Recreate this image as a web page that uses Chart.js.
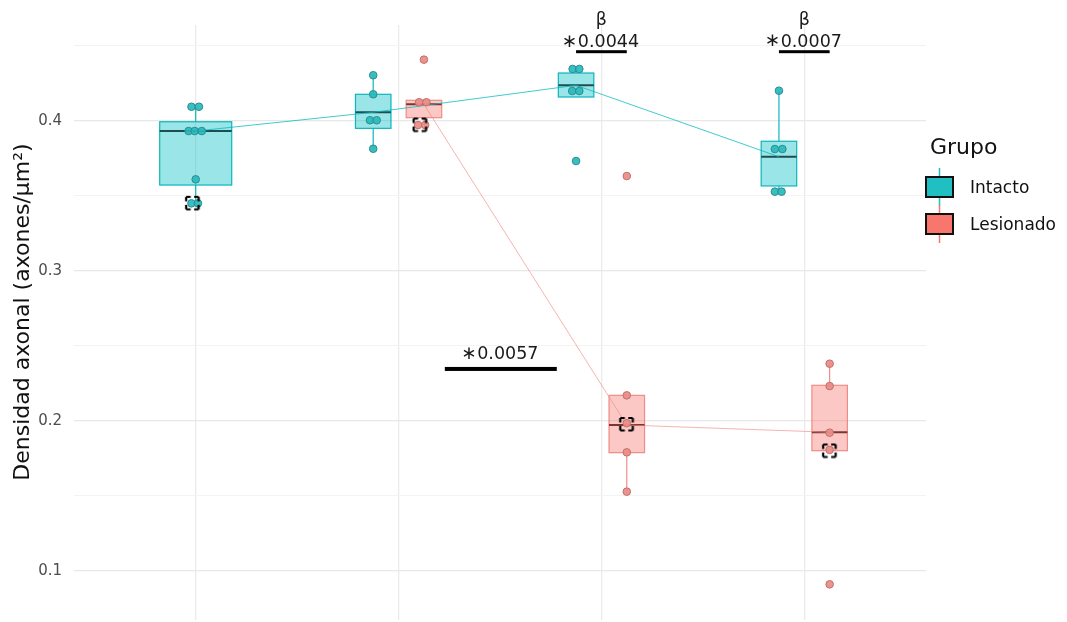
<!DOCTYPE html>
<html lang="es">
<head>
<meta charset="utf-8">
<title>Densidad axonal por grupo</title>
<script src="https://cdn.jsdelivr.net/npm/chart.js@4.4.0/dist/chart.umd.min.js"></script>
<style>
  html, body { margin: 0; padding: 0; background: #ffffff; }
  #lienzo { width: 1067px; height: 622px; }
</style>
</head>
<body>
<div id="lienzo"><canvas id="grafico" width="1067" height="622"></canvas></div>
<script>
// ---------- Datos ----------
const categorias = [1, 2, 3, 4];
const grupos = ['Intacto', 'Lesionado'];

// Resumen de cada caja: [bigote inferior, Q1, mediana, Q3, bigote superior]
const cajaIntacto = [
  [0.3451, 0.3573, 0.3933, 0.3995, 0.4095],
  [0.3815, 0.3951, 0.4058, 0.4178, 0.4305],
  [0.4160, 0.4160, 0.4238, 0.4320, 0.4347],
  [0.3529, 0.3567, 0.3762, 0.3865, 0.4202]
];
const cajaLesionado = [
  null,
  [0.3973, 0.4022, 0.4111, 0.4138, 0.4138],
  [0.1529, 0.1789, 0.1973, 0.2171, 0.2171],
  [0.1802, 0.1802, 0.1925, 0.2238, 0.2382]
];

// Observaciones individuales
const puntosIntacto = [
  [0.4095, 0.4095, 0.3933, 0.3933, 0.3933, 0.3611, 0.3451, 0.3451],
  [0.4305, 0.4178, 0.4005, 0.4005, 0.3815],
  [0.4347, 0.4347, 0.4200, 0.4200, 0.3733],
  [0.4202, 0.3813, 0.3813, 0.3529, 0.3529]
];
const puntosLesionado = [
  [],
  [0.4409, 0.4125, 0.4125, 0.3973, 0.3973],
  [0.3633, 0.2171, 0.1985, 0.1791, 0.1529],
  [0.2382, 0.2233, 0.1922, 0.1807, 0.0911]
];
// Desplazamiento horizontal (jitter) de cada observación, en unidades de categoría
const jitterIntacto = [
  [-0.021, 0.016, -0.035, -0.005, 0.030, 0.000, -0.021, 0.011],
  [0.000, 0.000, -0.016, 0.017, 0.000],
  [-0.017, 0.016, -0.019, 0.016, 0.000],
  [0.000, -0.020, 0.017, -0.020, 0.013]
];
const jitterLesionado = [
  [],
  [0.000, -0.024, 0.012, -0.029, 0.006],
  [0.000, 0.000, 0.000, 0.000, 0.000],
  [0.000, 0.000, 0.000, 0.000, 0.000]
];

// Observación destacada en cada categoría
const destacados = [
  { grupo: 0, categoria: 0, valor: 0.3451, jitter: -0.015 },
  { grupo: 1, categoria: 1, valor: 0.3973, jitter: -0.019 },
  { grupo: 1, categoria: 2, valor: 0.1977, jitter: 0.000 },
  { grupo: 1, categoria: 3, valor: 0.1800, jitter: 0.000 }
];

// Comparaciones significativas
const comparaciones = [
  { texto: '\u22170.0057', marca: '',  desde: 2.228, hasta: 2.780, y: 0.2347, yTexto: 0.2410 },
  { texto: '\u22170.0044', marca: 'β', desde: 2.875, hasta: 3.125, y: 0.4462, yTexto: 0.4493 },
  { texto: '\u22170.0007', marca: 'β', desde: 3.875, hasta: 4.125, y: 0.4462, yTexto: 0.4495 }
];

const limitesY = [0.06733, 0.464];
const marcasMayores = [0.1, 0.2, 0.3, 0.4];
const marcasMenores = [0.15, 0.25, 0.35, 0.45];

// ---------- Estilo ----------
const FUENTE = '"DejaVu Sans", Verdana, sans-serif';
const DESPLAZ = 0.125;       // separación entre grupos dentro de una categoría
const MEDIO_ANCHO = 0.0875;  // media anchura de una caja con dos grupos
const MEDIO_ANCHO_UNICO = 0.1775;

const estilos = [
  { relleno: 'rgba(0,191,196,0.40)', borde: 'rgba(0,178,184,0.95)', mediana: '#1f4e50',
    punto: 'rgba(40,185,188,0.92)', bordePunto: '#2a8d90', linea: 'rgba(0,185,190,0.75)', clave: '#1fbfc2' },
  { relleno: 'rgba(248,118,109,0.40)', borde: 'rgba(238,135,128,0.95)', mediana: '#7c3431',
    punto: 'rgba(232,142,136,0.95)', bordePunto: '#c46e69', linea: 'rgba(240,140,135,0.65)', clave: '#f8766d' }
];

function posicionGrupo(ci, g) {
  if (!cajaLesionado[ci] || !cajaIntacto[ci]) return categorias[ci];
  return categorias[ci] + (g === 0 ? -DESPLAZ : DESPLAZ);
}

function puntosDe(puntos, jitter, g) {
  const out = [];
  puntos.forEach((lista, ci) => {
    lista.forEach((v, k) => out.push({ x: posicionGrupo(ci, g) + jitter[ci][k], y: v }));
  });
  return out;
}

function medianasDe(cajas, g) {
  const out = [];
  cajas.forEach((b, ci) => { if (b) out.push({ x: posicionGrupo(ci, g), y: b[2] }); });
  return out;
}

function marcoDiscontinuo() {
  const c = document.createElement('canvas');
  c.width = 17; c.height = 17;
  const g = c.getContext('2d');
  g.strokeStyle = '#000';
  g.lineWidth = 2.2;
  g.setLineDash([4.5, 3.5]);
  const a = 2, b = 14.5;
  [[a, a, b, a], [b, a, b, b], [b, b, a, b], [a, b, a, a]].forEach(([x0, y0, x1, y1]) => {
    g.beginPath(); g.moveTo(x0, y0); g.lineTo(x1, y1); g.stroke();
  });
  return c;
}

// ---------- Cajas ----------
const pluginCajas = {
  id: 'cajas',
  beforeDatasetsDraw(chart) {
    const { ctx, scales: { x, y } } = chart;
    [cajaIntacto, cajaLesionado].forEach((cajas, g) => {
      const st = estilos[g];
      cajas.forEach((b, ci) => {
        if (!b) return;
        const unico = !cajaLesionado[ci] || !cajaIntacto[ci];
        const cx = posicionGrupo(ci, g);
        const hw = unico ? MEDIO_ANCHO_UNICO : MEDIO_ANCHO;
        const x0 = x.getPixelForValue(cx - hw);
        const x1 = x.getPixelForValue(cx + hw);
        const xc = x.getPixelForValue(cx);
        const [lo, q1, me, q3, hi] = b.map(v => y.getPixelForValue(v));
        ctx.save();
        ctx.strokeStyle = st.borde;
        ctx.lineWidth = 1.2;
        ctx.beginPath();
        ctx.moveTo(xc, q3); ctx.lineTo(xc, hi);
        ctx.moveTo(xc, q1); ctx.lineTo(xc, lo);
        ctx.stroke();
        ctx.fillStyle = st.relleno;
        ctx.fillRect(x0, q3, x1 - x0, q1 - q3);
        ctx.strokeRect(x0, q3, x1 - x0, q1 - q3);
        ctx.strokeStyle = st.mediana;
        ctx.lineWidth = 2;
        ctx.beginPath(); ctx.moveTo(x0, me); ctx.lineTo(x1, me); ctx.stroke();
        ctx.restore();
      });
    });
  }
};

// ---------- Anotaciones de significación ----------
const pluginComparaciones = {
  id: 'comparaciones',
  afterDatasetsDraw(chart) {
    const { ctx, scales: { x, y } } = chart;
    ctx.save();
    comparaciones.forEach((c, i) => {
      const xa = x.getPixelForValue(c.desde);
      const xb = x.getPixelForValue(c.hasta);
      const yb = y.getPixelForValue(c.y);
      const xm = x.getPixelForValue((c.desde + c.hasta) / 2);
      const yt = y.getPixelForValue(c.yTexto);
      ctx.fillStyle = '#000';
      const grosor = i === 0 ? 4 : 3;
      ctx.fillRect(xa, yb - grosor / 2, xb - xa, grosor);

      // asterisco grande, centrado a media altura de las cifras, y luego el valor p
      const simbolo = c.texto.slice(0, 1);
      const cifras = c.texto.slice(1);
      ctx.fillStyle = '#1a1a1a';
      ctx.textAlign = 'left';
      ctx.textBaseline = 'alphabetic';
      ctx.font = '17.5px ' + FUENTE;
      const anchoCifras = ctx.measureText(cifras).width;
      ctx.font = '20px ' + FUENTE;
      let m = ctx.measureText(simbolo);
      const tam = 20 * 12 / (m.actualBoundingBoxLeft + m.actualBoundingBoxRight);
      ctx.font = tam.toFixed(2) + 'px ' + FUENTE;
      m = ctx.measureText(simbolo);
      const anchoAst = m.actualBoundingBoxLeft + m.actualBoundingBoxRight;
      const total = anchoAst + 2 + anchoCifras;
      const inicio = xm - total / 2;
      const centroY = yt - 6.4;
      const baseAst = centroY + (m.actualBoundingBoxAscent - m.actualBoundingBoxDescent) / 2;
      ctx.fillText(simbolo, inicio + m.actualBoundingBoxLeft, baseAst);
      ctx.font = '17.5px ' + FUENTE;
      ctx.fillText(cifras, inicio + anchoAst + 2, yt);
      if (c.marca) {
        ctx.textAlign = 'center';
        ctx.fillText(c.marca, xm, yt - 22);
      }
    });
    ctx.restore();
  }
};

// ---------- Título del eje y leyenda ----------
const pluginRotulos = {
  id: 'rotulos',
  afterDraw(chart) {
    const { ctx } = chart;
    ctx.save();
    // título del eje vertical
    ctx.translate(23, 312);
    ctx.rotate(-Math.PI / 2);
    ctx.fillStyle = '#111';
    ctx.font = '22px ' + FUENTE;
    ctx.textAlign = 'center';
    ctx.textBaseline = 'middle';
    ctx.fillText('Densidad axonal (axones/µm²)', 0, 0);
    ctx.restore();

    // leyenda
    ctx.save();
    ctx.fillStyle = '#111';
    ctx.font = '22px ' + FUENTE;
    ctx.textAlign = 'left';
    ctx.textBaseline = 'alphabetic';
    ctx.fillText('Grupo', 930, 154);
    grupos.forEach((nombre, g) => {
      const top = 177 + g * 37;
      const st = estilos[g];
      ctx.strokeStyle = st.clave;
      ctx.lineWidth = 1.5;
      ctx.beginPath(); ctx.moveTo(939.5, top - 9); ctx.lineTo(939.5, top + 29); ctx.stroke();
      ctx.fillStyle = st.clave;
      ctx.fillRect(926, top, 27, 20);
      ctx.strokeStyle = '#111';
      ctx.lineWidth = 2;
      ctx.strokeRect(926, top, 27, 20);
      ctx.fillStyle = '#111';
      ctx.font = '17px ' + FUENTE;
      ctx.fillText(nombre, 970, top + 16);
    });
    ctx.restore();
  }
};

const esMayor = v => Math.abs(v * 10 - Math.round(v * 10)) < 1e-6;
const esLimite = v => Math.abs(v - limitesY[0]) < 1e-9;

new Chart(document.getElementById('grafico'), {
  type: 'scatter',
  data: {
    datasets: [
      {
        label: 'Destacados',
        data: destacados.map(d => ({ x: posicionGrupo(d.categoria, d.grupo) + d.jitter, y: d.valor })),
        pointStyle: marcoDiscontinuo(),
        pointRadius: 8,
        order: 1
      },
      {
        label: 'Intacto',
        data: puntosDe(puntosIntacto, jitterIntacto, 0),
        backgroundColor: estilos[0].punto,
        borderColor: estilos[0].bordePunto,
        borderWidth: 1,
        pointRadius: 3.8,
        order: 2
      },
      {
        label: 'Lesionado',
        data: puntosDe(puntosLesionado, jitterLesionado, 1),
        backgroundColor: estilos[1].punto,
        borderColor: estilos[1].bordePunto,
        borderWidth: 1,
        pointRadius: 3.8,
        order: 3
      },
      {
        label: 'Mediana Intacto',
        data: medianasDe(cajaIntacto, 0),
        showLine: true,
        borderColor: estilos[0].linea,
        borderWidth: 1,
        pointRadius: 0,
        order: 4
      },
      {
        label: 'Mediana Lesionado',
        data: medianasDe(cajaLesionado, 1),
        showLine: true,
        borderColor: estilos[1].linea,
        borderWidth: 1,
        pointRadius: 0,
        order: 5
      }
    ]
  },
  options: {
    responsive: false,
    animation: false,
    devicePixelRatio: 1,
    layout: { autoPadding: false, padding: { left: 0, right: 141, top: 25, bottom: 2 } },
    plugins: { legend: { display: false }, tooltip: { enabled: false } },
    scales: {
      x: {
        type: 'linear',
        min: 0.4,
        max: 4.6,
        afterBuildTicks: s => { s.ticks = categorias.map(v => ({ value: v })); },
        ticks: { display: false },
        grid: { color: '#ebebeb', lineWidth: 1.3, drawTicks: false },
        border: { display: false },
        afterFit: s => { s.height = 0; s.paddingLeft = 0; s.paddingRight = 0; s.paddingTop = 0; s.paddingBottom = 0; }
      },
      y: {
        type: 'linear',
        min: limitesY[0],
        max: limitesY[1],
        afterBuildTicks: s => {
          s.ticks = [limitesY[0]].concat(marcasMayores, marcasMenores)
            .sort((a, b) => a - b).map(v => ({ value: v }));
        },
        ticks: {
          autoSkip: false,
          padding: 12,
          color: '#4d4d4d',
          font: { family: FUENTE, size: 15 },
          callback: v => (esLimite(v) ? null : esMayor(v) ? v.toFixed(1) : '')
        },
        grid: {
          drawTicks: false,
          color: c => {
            if (!c.tick || esLimite(c.tick.value)) return 'rgba(0,0,0,0)';
            return esMayor(c.tick.value) ? '#e8e8e8' : '#f3f3f3';
          },
          lineWidth: c => (c.tick && esMayor(c.tick.value) ? 1.3 : 1)
        },
        border: { display: false },
        afterFit: s => { s.width = 74; s.paddingTop = 0; s.paddingBottom = 0; }
      }
    }
  },
  plugins: [pluginCajas, pluginComparaciones, pluginRotulos]
});
</script>
</body>
</html>
